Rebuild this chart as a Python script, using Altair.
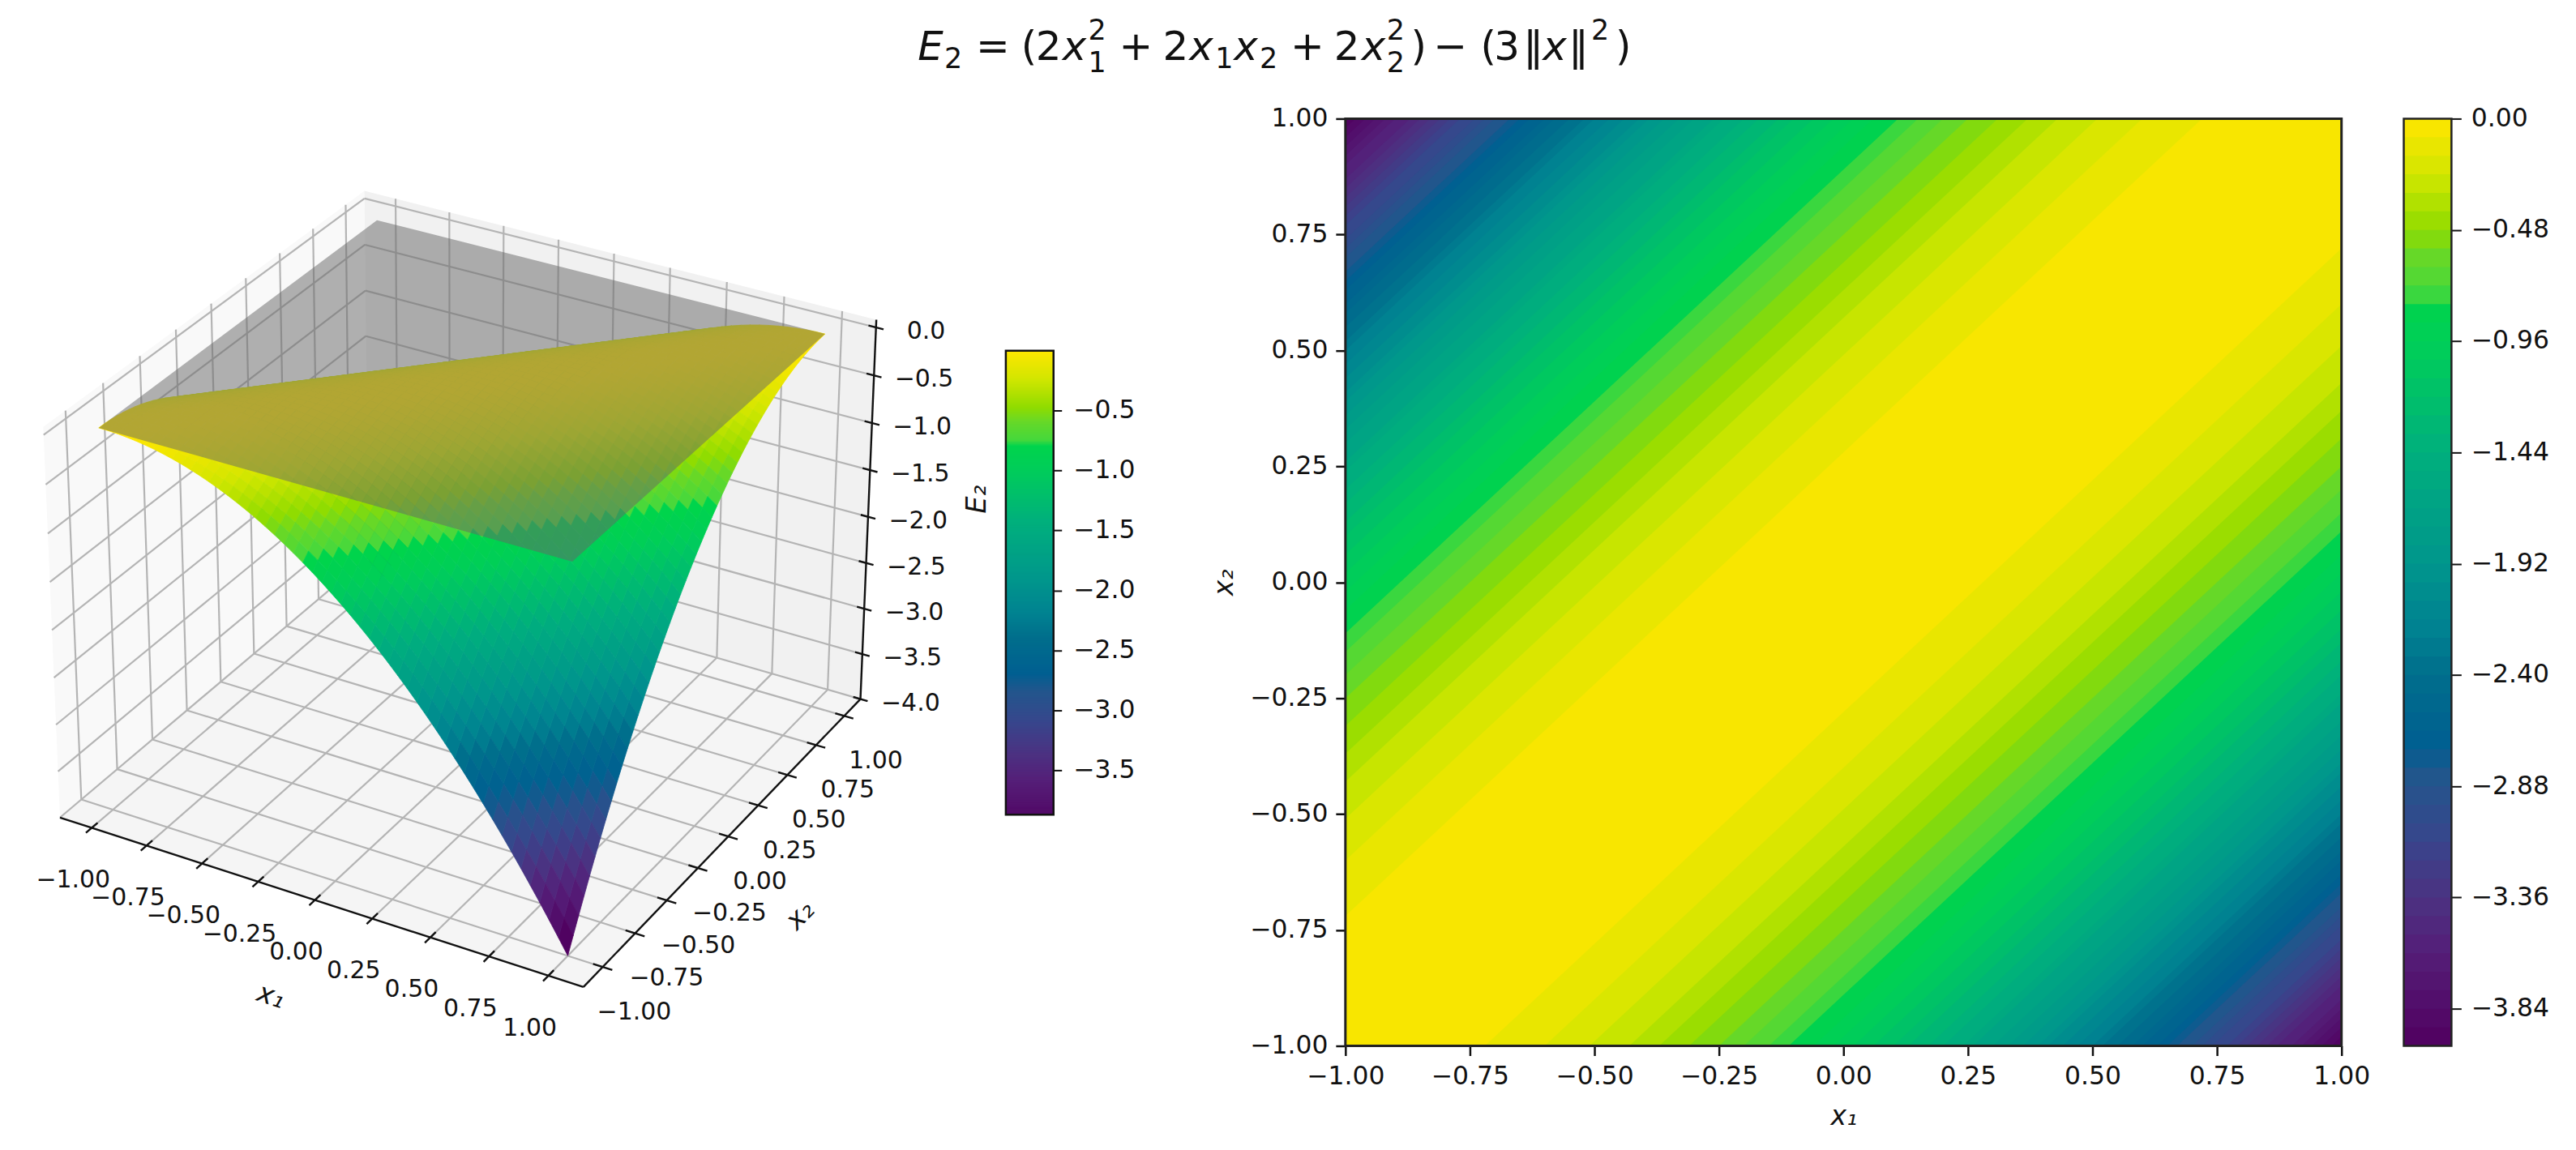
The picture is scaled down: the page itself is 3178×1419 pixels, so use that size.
"""
E2 surface next to its filled contour map, both with colorbars.
The 3D view is projected here and drawn as geoshapes with an identity projection.
"""

import altair as alt
import numpy as np
import pandas as pd

FONT = "DejaVu Sans"
TICK_FS = 31.5
TICK_FS_3D = 30

# --- values ---
ticks_x = [-1.0, -0.75, -0.5, -0.25, 0.0, 0.25, 0.5, 0.75, 1.0]
ticks_z = [0.0, -0.5, -1.0, -1.5, -2.0, -2.5, -3.0, -3.5, -4.0]
ticks_bar_left = [-0.5, -1.0, -1.5, -2.0, -2.5, -3.0, -3.5]
ticks_bar_right = [0.0, -0.48, -0.96, -1.44, -1.92, -2.40, -2.88, -3.36, -3.84]

grid_x = [-1.0, -0.96, -0.92, -0.88, -0.84, -0.8, -0.76, -0.72, -0.68, -0.64, -0.6, -0.56, -0.52,
          -0.48, -0.44, -0.4, -0.36, -0.32, -0.28, -0.24, -0.2, -0.16, -0.12, -0.08, -0.04, 0.0,
          0.04, 0.08, 0.12, 0.16, 0.2, 0.24, 0.28, 0.32, 0.36, 0.4, 0.44, 0.48, 0.52, 0.56, 0.6,
          0.64, 0.68, 0.72, 0.76, 0.8, 0.84, 0.88, 0.92, 0.96, 1.0]
# E2 against the number of grid steps between x1 and x2
e_by_offset = [0, -0.0016, -0.0064, -0.0144, -0.0256, -0.04, -0.0576, -0.0784, -0.1024, -0.1296, -0.16,
               -0.1936, -0.2304, -0.2704, -0.3136, -0.36, -0.4096, -0.4624, -0.5184, -0.5776, -0.64,
               -0.7056, -0.7744, -0.8464, -0.9216, -1.0, -1.0816, -1.1664, -1.2544, -1.3456, -1.44,
               -1.5376, -1.6384, -1.7424, -1.8496, -1.96, -2.0736, -2.1904, -2.3104, -2.4336, -2.56,
               -2.6896, -2.8224, -2.9584, -3.0976, -3.24, -3.3856, -3.5344, -3.6864, -3.8416, -4.0]
# contour edges as distance |x1 - x2|, one per 0.08 step of E2
band_edges = [0, 0.28, 0.40, 0.49, 0.57, 0.63, 0.69, 0.75, 0.80, 0.85, 0.89, 0.94, 0.98, 1.02, 1.06,
              1.10, 1.13, 1.17, 1.20, 1.24, 1.26, 1.30, 1.33, 1.36, 1.39, 1.41, 1.44, 1.47, 1.50,
              1.52, 1.55, 1.58, 1.60, 1.63, 1.65, 1.67, 1.70, 1.72, 1.74, 1.77, 1.79, 1.81, 1.83,
              1.85, 1.87, 1.90, 1.92, 1.94, 1.96, 1.98, 2.0]

stop_values = [-4.0, -3.6, -3.36, -3.1, -2.85, -2.7, -2.4, -2.2, -1.92, -1.44, -1.0, -0.80, -0.75,
               -0.60, -0.48, -0.24, 0]
stop_colors = ["#50005f", "#551e78", "#4b3282", "#37468c", "#23558c", "#005f91", "#006e8c", "#008291",
               "#00968c", "#00af7d", "#00cd5a", "#00d44c", "#45d83c", "#66d828", "#90dc00", "#d2e600",
               "#ffe600"]
pane_fills = ["#f9f9f9", "#f1f1f1", "#f5f5f5"]

# the colour scale spreads its range evenly over the domain, so resample the stops
rgb = np.array([[int(c[i:i + 2], 16) for i in (1, 3, 5)] for c in stop_colors], float)
ramp_pos = np.linspace(-4, 0, 161)
ramp = ["#%02x%02x%02x" % tuple(int(round(np.interp(p, stop_values, rgb[:, i]))) for i in range(3))
        for p in ramp_pos]
color_right = alt.Scale(domain=[-4, 0], range=ramp)
color_left = alt.Scale(domain=[-3.87, 0], range=ramp)

# --- 3D view calibration: (x1, x2, E2) -> page pixel ---
B = 1.146
Z_LOW, Z_TOP = -4.0, 0.08
camera_points = [(-1, -1, 0), (-1, 1, 0), (1, 1, 0), (1, -1, 0), (1, -1, -4), (B, -B, Z_LOW), (B, B, Z_LOW),
                 (-B, -B, Z_LOW), (-B, B, Z_TOP), (-B, -B, Z_TOP), (B, B, Z_TOP), (-1, -B, Z_LOW),
                 (1, -B, Z_LOW), (B, -1, Z_LOW), (B, 1, Z_LOW), (B, B, 0)]
camera_pixels = [(122, 525), (466, 270), (1020, 412), (707, 691), (701, 1172), (721, 1220), (1063, 859),
                 (75, 1009), (450, 234), (54, 529), (1085, 394), (113.5, 1024),
                 (676, 1210), (749, 1197), (1045, 887), (1084, 405)]

rows, rhs = [], []
for (a, b, c), (u, v) in zip(camera_points, camera_pixels):
    rows.append([a, b, c, 1, 0, 0, 0, 0, -u * a, -u * b, -u * c])
    rows.append([0, 0, 0, 0, a, b, c, 1, -v * a, -v * b, -v * c])
    rhs += [u, v]
cam = np.append(np.linalg.lstsq(np.array(rows, float), np.array(rhs, float), rcond=None)[0], 1).reshape(3, 4)

ORIGIN = (8, 145)


def project(a, b, c):
    h = cam @ np.array([a, b, c, 1.0])
    return [round(float(h[0] / h[2]) - ORIGIN[0], 2), round(float(h[1] / h[2]) - ORIGIN[1], 2)]


def depth(a, b, c):
    return abs(float(cam[2] @ np.array([a, b, c, 1.0])))


def polygon(points, **props):
    ring = [project(*p) for p in points]
    ring.append(ring[0])
    return {"type": "Feature", "geometry": {"type": "Polygon", "coordinates": [ring]}, "properties": props}


def segment(p, q):
    return {"type": "Feature", "properties": {},
            "geometry": {"type": "LineString", "coordinates": [project(*p), project(*q)]}}


def tick_text(v, digits):
    return f"{v:.{digits}f}".replace("-", "\u2212")


proj = dict(type="identity", scale=1, translate=[0, 0])

# panes
panes = [
    polygon([(-B, -B, Z_LOW), (-B, B, Z_LOW), (-B, B, Z_TOP), (-B, -B, Z_TOP)], fill=pane_fills[0]),
    polygon([(-B, B, Z_LOW), (B, B, Z_LOW), (B, B, Z_TOP), (-B, B, Z_TOP)], fill=pane_fills[1]),
    polygon([(-B, -B, Z_LOW), (B, -B, Z_LOW), (B, B, Z_LOW), (-B, B, Z_LOW)], fill=pane_fills[2]),
]
grid_lines = []
for t in ticks_x:
    grid_lines.append(segment((t, -B, Z_LOW), (t, B, Z_LOW)))
    grid_lines.append(segment((-B, t, Z_LOW), (B, t, Z_LOW)))
    grid_lines.append(segment((-B, t, Z_LOW), (-B, t, Z_TOP)))
    grid_lines.append(segment((t, B, Z_LOW), (t, B, Z_TOP)))
for t in ticks_z:
    grid_lines.append(segment((-B, -B, t), (-B, B, t)))
    grid_lines.append(segment((-B, B, t), (B, B, t)))

# surface faces, far ones first
faces = []
for i in range(len(grid_x) - 1):
    for j in range(len(grid_x) - 1):
        corners = [(i, j), (i + 1, j), (i + 1, j + 1), (i, j + 1)]
        pts = [(grid_x[p], grid_x[q], e_by_offset[abs(p - q)]) for p, q in corners]
        mid = np.mean(pts, axis=0)
        faces.append((depth(*mid), polygon(pts, E=round(float(mid[2]), 4))))
faces.sort(key=lambda f: -f[0])
faces = [f[1] for f in faces]

plane = [polygon([(-1, -1, 0), (1, -1, 0), (1, 1, 0), (-1, 1, 0)])]

axis_lines = [segment((-B, -B, Z_LOW), (B, -B, Z_LOW)), segment((B, -B, Z_LOW), (B, B, Z_LOW)),
              segment((B, B, Z_LOW), (B, B, Z_TOP))]
labels = []
for t in ticks_x:
    axis_lines.append(segment((t, -B - 0.04, Z_LOW), (t, -B + 0.04, Z_LOW)))
    axis_lines.append(segment((B - 0.04, t, Z_LOW), (B + 0.04, t, Z_LOW)))
    px, py = project(t, -B, Z_LOW)
    labels.append({"lon": px - 23, "lat": py + 65, "label": tick_text(t, 2)})
    px, py = project(B, t, Z_LOW)
    labels.append({"lon": px + 39, "lat": py + 56, "label": tick_text(t, 2)})
for t in ticks_z:
    axis_lines.append(segment((B - 0.032, B, t), (B + 0.032, B, t)))
    px, py = project(B, B, t)
    labels.append({"lon": px + 62, "lat": py + 5, "label": tick_text(t, 1)})


def geo(features):
    return alt.Chart(alt.Data(values=features))


def side_label(lon, lat, text, angle):
    return alt.Chart(pd.DataFrame({"lon": [lon], "lat": [lat], "label": [text]})).mark_text(
        font=FONT, fontSize=34, fontStyle="italic", angle=angle, color="#111111").encode(
        longitude="lon:Q", latitude="lat:Q", text="label:N").project(**proj)


panel_3d = alt.layer(
    geo(panes).mark_geoshape(strokeWidth=0).encode(
        color=alt.Color("properties.fill:N", scale=alt.Scale(domain=pane_fills, range=pane_fills), legend=None)
    ).project(**proj),
    geo(grid_lines).mark_geoshape(filled=False, stroke="#b4b4b4", strokeWidth=2.2).project(**proj),
    geo(faces).mark_geoshape(strokeWidth=0.8).encode(
        color=alt.Color("properties.E:Q", scale=color_left, legend=None),
        stroke=alt.Stroke("properties.E:Q", scale=color_left, legend=None),
    ).project(**proj),
    geo(plane).mark_geoshape(fill="#666666", fillOpacity=0.5, strokeWidth=0).project(**proj),
    geo(axis_lines).mark_geoshape(filled=False, stroke="#111111", strokeWidth=2.4).project(**proj),
    alt.Chart(pd.DataFrame(labels)).mark_text(font=FONT, fontSize=TICK_FS_3D, color="#111111").encode(
        longitude="lon:Q", latitude="lat:Q", text="label:N").project(**proj),
    side_label(327, 1086, "x\u2081", 18),
    side_label(982, 986, "x\u2082", 314),
    side_label(1201, 471, "E\u2082", 270),
).properties(width=1236, height=1147)

# left colorbar
bar_left_df = pd.DataFrame({"v": np.arange(-3.87, 0, 0.01), "top": 0.0})
left_y = alt.Y("v:Q", title=None,
               scale=alt.Scale(domain=[-3.87, 0], range=[861, 287], nice=False),
               axis=alt.Axis(orient="right", values=ticks_bar_left, domain=False, tickSize=10, tickWidth=2,
                             labelPadding=14, labelExpr="replace(format(datum.value,'.1f'),'-','\u2212')"))
bar_left = alt.layer(
    alt.Chart(bar_left_df).mark_rect().encode(
        x=alt.value(0), x2=alt.value(59), y=left_y, y2="top:Q",
        color=alt.Color("v:Q", scale=color_left, legend=None)),
    alt.Chart(pd.DataFrame({"v": [-3.87], "top": [0.0]})).mark_rect(
        filled=False, stroke="#111111", strokeWidth=2.5).encode(
        x=alt.value(0), x2=alt.value(59), y=left_y, y2="top:Q"),
).properties(width=59, height=1147)

# contour map, widest strip first so that no seams show
band_rows = []
for k in range(len(band_edges) - 1, 0, -1):
    level = -0.08 * (k - 0.5)
    for x in [-1.0, 1.0]:
        band_rows.append({"x": x, "lo": x - band_edges[k], "hi": x + band_edges[k], "band": k, "level": level})
tick_expr = "replace(format(datum.value,'.2f'),'-','\u2212')"
heat_x = alt.X("x:Q", title="x\u2081", scale=alt.Scale(domain=[-1, 1], nice=False),
               axis=alt.Axis(values=ticks_x, labelExpr=tick_expr, domain=False, tickSize=12, tickWidth=2.5,
                             labelPadding=10, titleFontStyle="italic", titleFontSize=33, titlePadding=18,
                             labelFlush=False, labelOverlap=False))
heat_y = alt.Y("lo:Q", title="x\u2082", scale=alt.Scale(domain=[-1, 1], nice=False),
               axis=alt.Axis(values=ticks_x, labelExpr=tick_expr, domain=False, tickSize=12, tickWidth=2.5,
                             labelPadding=10, titleFontStyle="italic", titleFontSize=33, titlePadding=14,
                             labelFlush=False, labelOverlap=False))
heat = alt.layer(
    alt.Chart(pd.DataFrame(band_rows)).mark_area(clip=True).encode(
        x=heat_x, y=heat_y, y2="hi:Q", detail="band:N",
        color=alt.Color("level:Q", scale=color_right, legend=None)),
    alt.Chart(pd.DataFrame({"x": [-1.0], "x2": [1.0], "lo": [-1.0], "hi": [1.0]})).mark_rect(
        filled=False, stroke="#222222", strokeWidth=3).encode(x=heat_x, x2="x2:Q", y=heat_y, y2="hi:Q"),
).properties(width=1232, height=1147)

# right colorbar
bar_right_df = pd.DataFrame({"v": [-0.08 * k for k in range(50, 0, -1)], "mid": [-0.08 * (k - 0.5) for k in range(50, 0, -1)],
                             "top": 0.0})
right_y = alt.Y("v:Q", title=None, scale=alt.Scale(domain=[-4, 0], nice=False),
                axis=alt.Axis(orient="right", values=ticks_bar_right, domain=False, tickSize=12, tickWidth=2,
                              labelPadding=12, labelExpr=tick_expr))
bar_right = alt.layer(
    alt.Chart(bar_right_df).mark_rect().encode(
        x=alt.value(0), x2=alt.value(59), y=right_y, y2="top:Q",
        color=alt.Color("mid:Q", scale=color_right, legend=None)),
    alt.Chart(pd.DataFrame({"v": [-4.0], "top": [0.0]})).mark_rect(
        filled=False, stroke="#222222", strokeWidth=2.5).encode(
        x=alt.value(0), x2=alt.value(59), y=right_y, y2="top:Q"),
).properties(width=59, height=1147)

# title, mathtext style: pieces set by hand
T, SUB, SUP, SUBX = 64, 74, 39, 79
title_rows = [
    ("E", 1135, T, 50, 1), ("2", 1168, SUB, 35, 0), ("=", 1207, T, 50, 0), ("(", 1263, T, 50, 0),
    ("2", 1281, T, 50, 0), ("x", 1314, T, 50, 1), ("2", 1346, SUP, 35, 0), ("1", 1346, SUBX, 35, 0),
    ("+", 1384, T, 50, 0), ("2", 1438, T, 50, 0), ("x", 1471, T, 50, 1), ("1", 1503, SUB, 35, 0),
    ("x", 1526, T, 50, 1), ("2", 1558, SUB, 35, 0), ("+", 1596, T, 50, 0), ("2", 1650, T, 50, 0),
    ("x", 1684, T, 50, 1), ("2", 1715, SUP, 35, 0), ("2", 1715, SUBX, 35, 0), (")", 1745, T, 50, 0),
    ("\u2212", 1773, T, 50, 0), ("(", 1831, T, 50, 0), ("3", 1848, T, 50, 0), ("\u2016", 1884, T, 50, 0),
    ("x", 1908, T, 50, 1), ("\u2016", 1940, T, 50, 0), ("2", 1968, SUP, 35, 0), (")", 1998, T, 50, 0),
]
title_df = pd.DataFrame(title_rows, columns=["t", "x", "y", "fs", "it"])
title_df["x"] = title_df["x"] - ORIGIN[0]


def title_layer(flag, style):
    return alt.Chart(title_df[title_df["it"] == flag]).mark_text(
        font=FONT, fontStyle=style, align="left", baseline="alphabetic", color="#111111").encode(
        x=alt.X("x:Q", scale=alt.Scale(domain=[0, 3170], range=[0, 3170]), axis=None),
        y=alt.Y("y:Q", scale=alt.Scale(domain=[0, 137], range=[0, 137]), axis=None),
        text="t:N",
        size=alt.Size("fs:Q", scale=alt.Scale(domain=[35, 50], range=[35, 50]), legend=None))


title_panel = alt.layer(title_layer(0, "normal"), title_layer(1, "italic")).properties(width=3170, height=137)


def spacer(w):
    return alt.Chart(pd.DataFrame({"a": [0]})).mark_point(opacity=0).encode(
        x=alt.value(0), y=alt.value(0)).properties(width=w, height=1147)


row = alt.hconcat(panel_3d, bar_left, spacer(361), heat, spacer(77), bar_right, spacing=0, bounds="flush")
chart = alt.vconcat(title_panel, row, spacing=0, bounds="flush").properties(
    padding=0, background="white"
).configure_view(strokeWidth=0).configure_axis(
    grid=False, labelFont=FONT, titleFont=FONT, labelFontSize=TICK_FS, labelColor="#111111",
    titleColor="#111111", tickColor="#111111", titleFontWeight="normal"
)

chart.save("out.html", embed_options={"renderer": "svg", "actions": False})
